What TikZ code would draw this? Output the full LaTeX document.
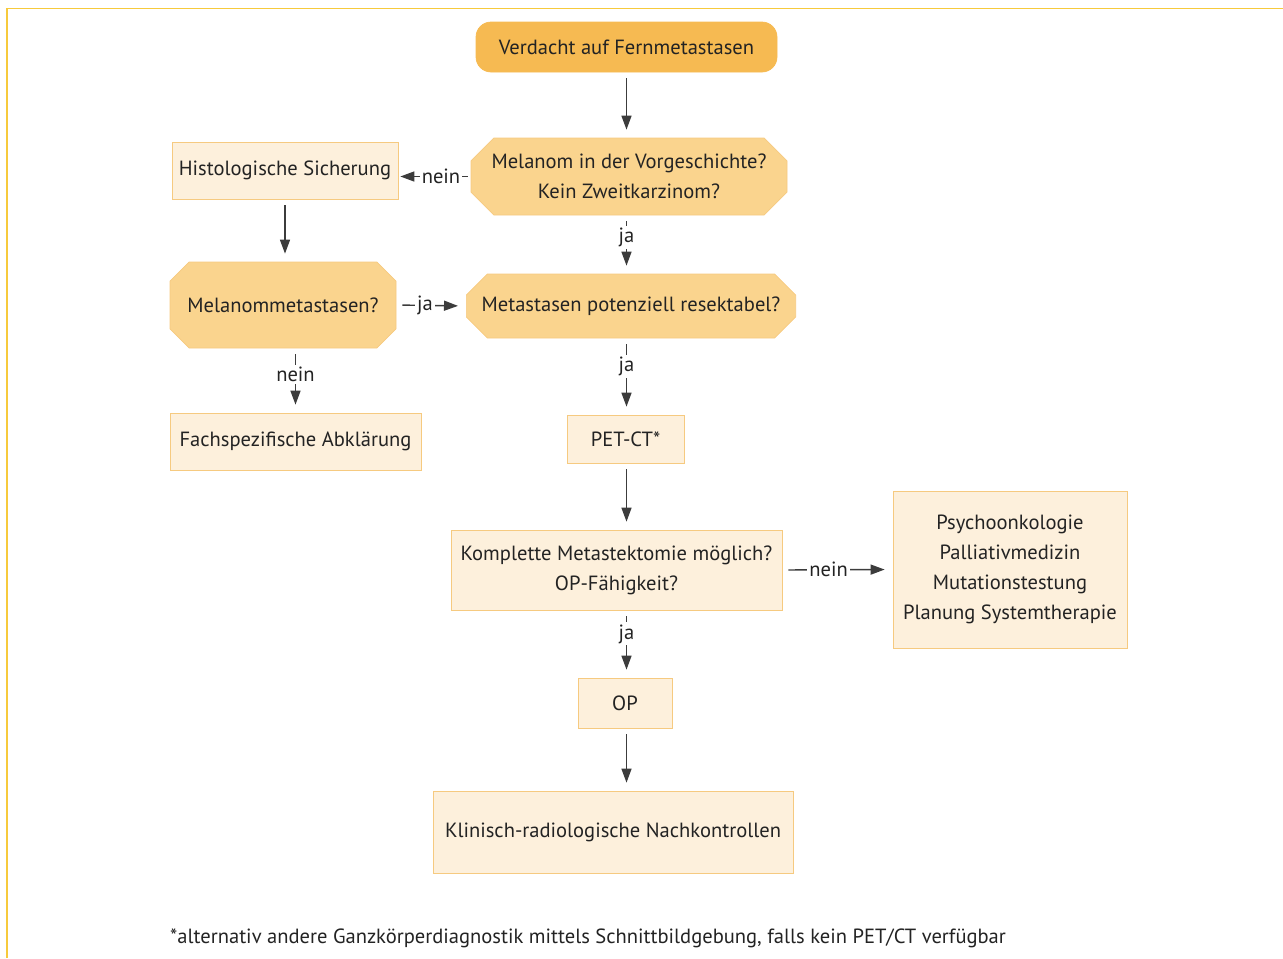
\documentclass[tikz,border=0pt]{standalone}
\usepackage{fontspec}
\setmainfont{PT Sans}
\usetikzlibrary{positioning}
\usetikzlibrary{calc}
\usetikzlibrary{shapes.misc}
\usetikzlibrary{arrows.meta}

\definecolor{startorange}{RGB}{246,186,82}
\definecolor{askorange}{RGB}{250,212,142}
\definecolor{boxfill}{RGB}{253,240,220}
\definecolor{boxline}{RGB}{246,202,128}
\definecolor{frameyellow}{RGB}{247,202,60}
\definecolor{arrowgray}{RGB}{60,60,60}
\definecolor{textgray}{RGB}{35,35,35}

\tikzset{
  every node/.style={font=\fontsize{11.7}{17}\selectfont, text=textgray},
  startbox/.style={draw=startorange, fill=startorange, rounded corners=0.3cm},
  askbox/.style={chamfered rectangle, chamfered rectangle xsep=0.34cm, inner xsep=0pt, draw=boxline, fill=askorange, align=center},
  stepbox/.style={draw=boxline, fill=boxfill, align=center},
  flow/.style={draw=arrowgray, line width=0.8pt, shorten <=0.12cm, shorten >=0.16cm, -{Triangle[length=0.28cm,width=0.2cm]}},
  yesno/.style={fill=white, inner sep=1.2pt}
}

\begin{document}
\begin{tikzpicture}
\useasboundingbox (0,0) rectangle (25.66,-19.16);
\draw[frameyellow, line width=1.1pt] (0.14,-19.16) -- (0.14,-0.17) -- (25.66,-0.17);

\node[startbox, minimum width=6.02cm, minimum height=1cm] (start) at (12.53,-0.94) {Verdacht auf Fernmetastasen};
\node[askbox, minimum width=6.32cm, minimum height=1.54cm] (q1) at (12.58,-3.53) {Melanom in der Vorgeschichte?\\Kein Zweitkarzinom?};
\node[stepbox, minimum width=4.52cm, minimum height=1.14cm] (hist) at (5.70,-3.41) {Histologische Sicherung};
\node[askbox, minimum width=4.52cm, minimum height=1.72cm] (mm) at (5.66,-6.10) {Melanommetastasen?};
\node[askbox, minimum width=6.48cm, minimum height=1.28cm] (res) at (12.62,-6.12) {Metastasen potenziell resektabel?};
\node[stepbox, minimum width=5.02cm, minimum height=1.14cm] (fach) at (5.91,-8.83) {Fachspezifische Abklärung};
\node[stepbox, minimum width=2.34cm, minimum height=0.96cm] (pet) at (12.51,-8.78) {PET-CT*};
\node[stepbox, minimum width=6.62cm, minimum height=1.6cm] (kompl) at (12.33,-11.40) {Komplette Metastektomie möglich?\\OP-Fähigkeit?};
\node[stepbox, minimum width=4.68cm, minimum height=3.14cm] (pall) at (20.20,-11.39) {Psychoonkologie\\Palliativmedizin\\Mutationstestung\\Planung Systemtherapie};
\node[stepbox, minimum width=1.88cm, minimum height=1cm] (op) at (12.50,-14.06) {OP};
\node[stepbox, minimum width=7.2cm, minimum height=1.64cm] (nach) at (12.26,-16.64) {Klinisch-radiologische Nachkontrollen};
\node[anchor=west] (note) at (3.28,-18.76) {*alternativ andere Ganzkörperdiagnostik mittels Schnittbildgebung, falls kein PET/CT verfügbar};

% Hauptachse
\draw[flow] (start.south) -- (start.south |- q1.north);
\draw[flow] (q1.south -| start) -- node[yesno, pos=0.38] {ja} (res.north -| start);
\draw[flow] (res.south -| start) -- node[yesno, pos=0.37] {ja} (pet.north -| start);
\draw[flow] (pet.south -| start) -- (kompl.north -| start);
\draw[flow] (kompl.south -| start) -- node[yesno, pos=0.35] {ja} (op.north -| start);
\draw[flow] (op.south -| start) -- (nach.north -| start);

% Seitenzweige
\draw[flow, shorten <=0.06cm, shorten >=0.04cm] (q1.west) -- node[yesno, pos=0.41] {nein} (q1.west -| hist.east);
\draw[flow] (hist.south) -- (hist.south |- mm.north);
\draw[flow] (mm.east) -- node[yesno, pos=0.41] {ja} (res.west);
\draw[flow] (mm.south -| fach) -- node[yesno, pos=0.4] {nein} (fach.north);
\draw[flow] (kompl.east) -- node[yesno, pos=0.42] {nein} (pall.west);
\end{tikzpicture}
\end{document}
